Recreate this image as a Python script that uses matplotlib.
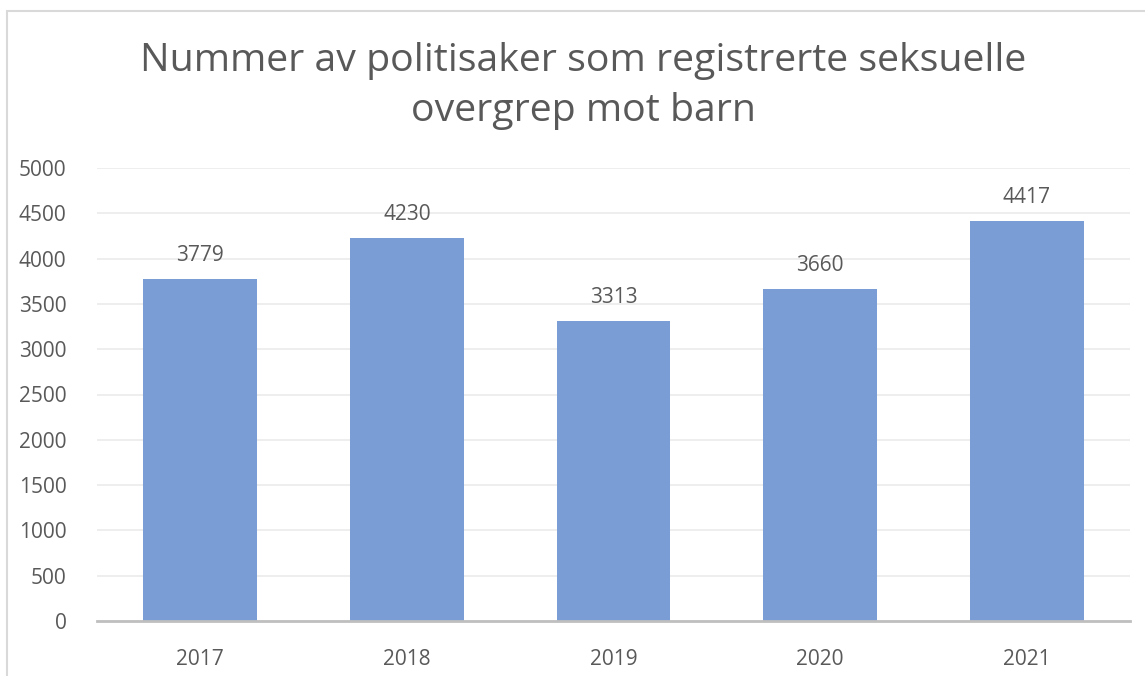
import matplotlib
matplotlib.use("Agg")
import matplotlib.pyplot as plt
from matplotlib.patches import Rectangle

years = ["2017", "2018", "2019", "2020", "2021"]
cases = [3779, 4230, 3313, 3660, 4417]
yticks = [0, 500, 1000, 1500, 2000, 2500, 3000, 3500, 4000, 4500, 5000]

TEXT = "#595959"
BAR = "#7b9dd5"

plt.rcParams["font.family"] = ["Open Sans", "DejaVu Sans"]

fig = plt.figure(figsize=(11.45, 6.76), dpi=100)
ax = fig.add_axes([97 / 1145, 55 / 676, 1033 / 1145, 453 / 676])

# chart frame, only the left and top show in the crop
fig.patches.append(Rectangle((7 / 1145, -0.2), 1.2, 1 - 11 / 676 + 0.2,
                             transform=fig.transFigure, fill=False,
                             edgecolor="#d9d9d9", linewidth=1.5))

x = range(len(years))
bars = ax.bar(x, cases, width=0.55, color=BAR, zorder=2)
for xi, v in zip(x, cases):
    ax.annotate(str(v), (xi, v), xytext=(0, 17), textcoords="offset points",
                ha="center", va="center", fontsize=15, color=TEXT)

ax.set_xlim(-0.5, 4.5)
ax.set_ylim(0, 5000)
ax.set_yticks(yticks)
ax.set_xticks(list(x))
ax.set_xticklabels(years)
ax.tick_params(axis="both", length=0, labelsize=15, labelcolor=TEXT)
ax.tick_params(axis="x", pad=20)
ax.tick_params(axis="y", pad=22)
ax.grid(axis="y", color="#ebebeb", linewidth=1.2, zorder=0)
for s in ["top", "right", "left"]:
    ax.spines[s].set_visible(False)
ax.spines["bottom"].set_color("#bfbfbf")
ax.spines["bottom"].set_linewidth(2)
ax.spines["bottom"].set_zorder(3)

fig.text(583 / 1145, 1 - 86 / 676,
         "Nummer av politisaker som registrerte seksuelle\novergrep mot barn",
         ha="center", va="center", fontsize=28.3, color=TEXT, linespacing=1.4)

fig.savefig("out.png", dpi=100)
